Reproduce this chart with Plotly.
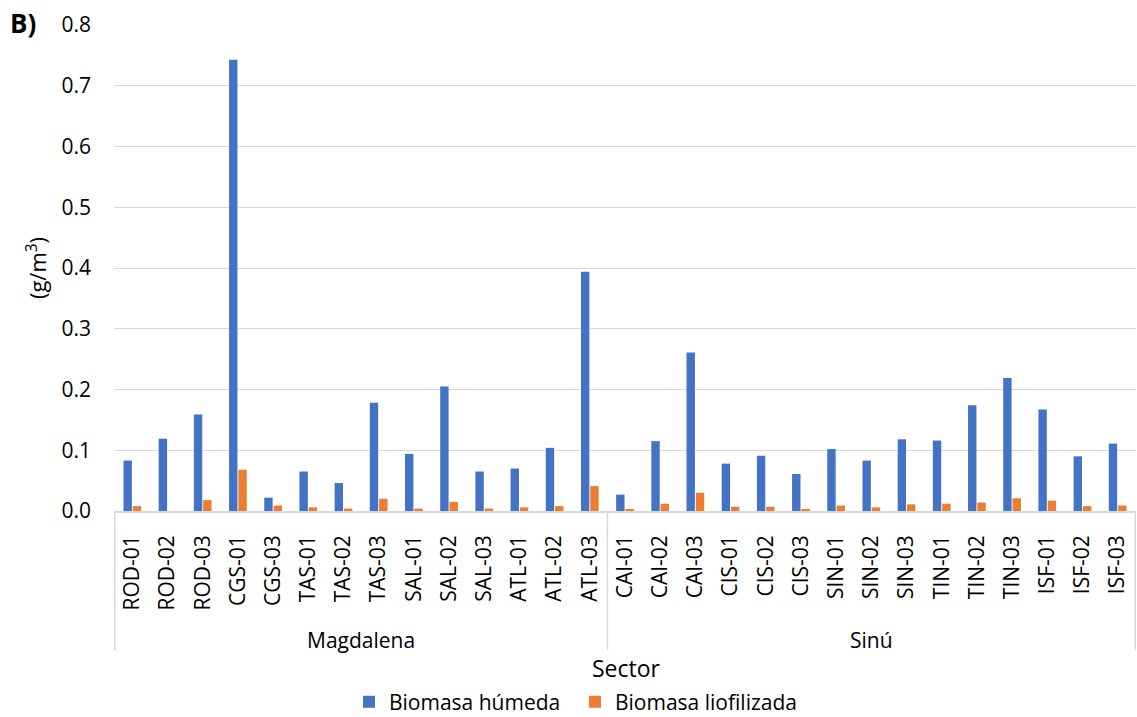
import plotly.graph_objects as go

categories = ["ROD-01", "ROD-02", "ROD-03", "CGS-01", "CGS-03", "TAS-01", "TAS-02", "TAS-03",
              "SAL-01", "SAL-02", "SAL-03", "ATL-01", "ATL-02", "ATL-03",
              "CAI-01", "CAI-02", "CAI-03", "CIS-01", "CIS-02", "CIS-03", "SIN-01", "SIN-02",
              "SIN-03", "TIN-01", "TIN-02", "TIN-03", "ISF-01", "ISF-02", "ISF-03"]
sectors = ["Magdalena", "Sinú"]
sector_sizes = [14, 15]

biomasa_humeda = [0.083, 0.119, 0.159, 0.743, 0.022, 0.065, 0.046, 0.178, 0.094, 0.205, 0.065,
                  0.070, 0.104, 0.394,
                  0.027, 0.115, 0.261, 0.078, 0.091, 0.061, 0.102, 0.083, 0.118, 0.116, 0.174,
                  0.219, 0.167, 0.090, 0.111]
biomasa_liofilizada = [0.008, 0.0, 0.018, 0.068, 0.009, 0.006, 0.004, 0.020, 0.004, 0.015, 0.004,
                       0.006, 0.008, 0.041,
                       0.002, 0.012, 0.030, 0.007, 0.007, 0.003, 0.009, 0.006, 0.011, 0.012, 0.014,
                       0.021, 0.017, 0.008, 0.009]

FONT = "Open Sans"
FS = 21
fig = go.Figure()
fig.add_trace(go.Bar(x=categories, y=biomasa_humeda, name="Biomasa húmeda",
                     marker=dict(color="#4472C4", line=dict(width=0))))
fig.add_trace(go.Bar(x=categories, y=biomasa_liofilizada, name="Biomasa liofilizada",
                     marker=dict(color="#ED7D31", line=dict(width=0))))

left_px, right_px = 114, 1136
top_px, bottom_px = 25, 511
plot_h = bottom_px - top_px
plot_w = right_px - left_px
def py(pix):
    return (bottom_px - pix) / plot_h
def px(pix):
    return (pix - left_px) / plot_w

shapes = []
edges = [-0.5]
for s in sector_sizes:
    edges.append(edges[-1] + s)
for e in edges:
    shapes.append(dict(type="line", xref="x", yref="paper", x0=e, x1=e, y0=0, y1=py(650),
                       line=dict(color="#D9D9D9", width=1.5)))

annotations = []
for i, name in enumerate(sectors):
    c = (edges[i] + edges[i + 1]) / 2
    annotations.append(dict(text=name, xref="x", yref="paper", x=c, y=py(640), showarrow=False,
                            font=dict(family=FONT, size=FS, color="#000000"),
                            xanchor="center", yanchor="middle"))
annotations.append(dict(text="Sector", xref="paper", yref="paper", x=px(626), y=py(668),
                        showarrow=False, font=dict(family=FONT, size=23, color="#000000"),
                        xanchor="center", yanchor="middle"))
annotations.append(dict(text="<b>B)</b>", xref="paper", yref="paper", x=px(8), y=py(23),
                        showarrow=False, font=dict(family=FONT, size=26, color="#000000"),
                        xanchor="left", yanchor="middle"))

fig.update_layout(
    width=1137, height=717,
    margin=dict(l=left_px, r=1137 - right_px, t=top_px, b=717 - bottom_px, autoexpand=False),
    paper_bgcolor="white", plot_bgcolor="white",
    barmode="group", bargap=0.47, bargroupgap=0.1,
    font=dict(family=FONT, size=FS, color="#000000"),
    showlegend=True,
    legend=dict(orientation="h", x=px(349), xanchor="left", y=py(702), yanchor="middle",
                font=dict(family=FONT, size=FS), itemwidth=30, traceorder="normal",
                entrywidth=181, entrywidthmode="pixels"),
    shapes=shapes,
    annotations=annotations,
    xaxis=dict(type="category", tickangle=-90, showgrid=False, showline=True,
               linecolor="#D9D9D9", linewidth=1.5, ticks="", ticklabelstandoff=14,
               automargin=False, tickfont=dict(family=FONT, size=21)),
    yaxis=dict(range=[0, 0.8], dtick=0.1, tickformat=".1f", showgrid=True,
               gridcolor="#D9D9D9", gridwidth=1.3, zeroline=False, showline=False,
               ticks="", ticklabelstandoff=22, automargin=False,
               tickfont=dict(family=FONT, size=FS),
               title=dict(text="(g/m<sup>3</sup>)", font=dict(family=FONT, size=22), standoff=8)),
)

fig.write_html("out.html", config={"displayModeBar": False},
               post_script="document.body.style.margin='0';document.body.style.overflow='hidden';")
